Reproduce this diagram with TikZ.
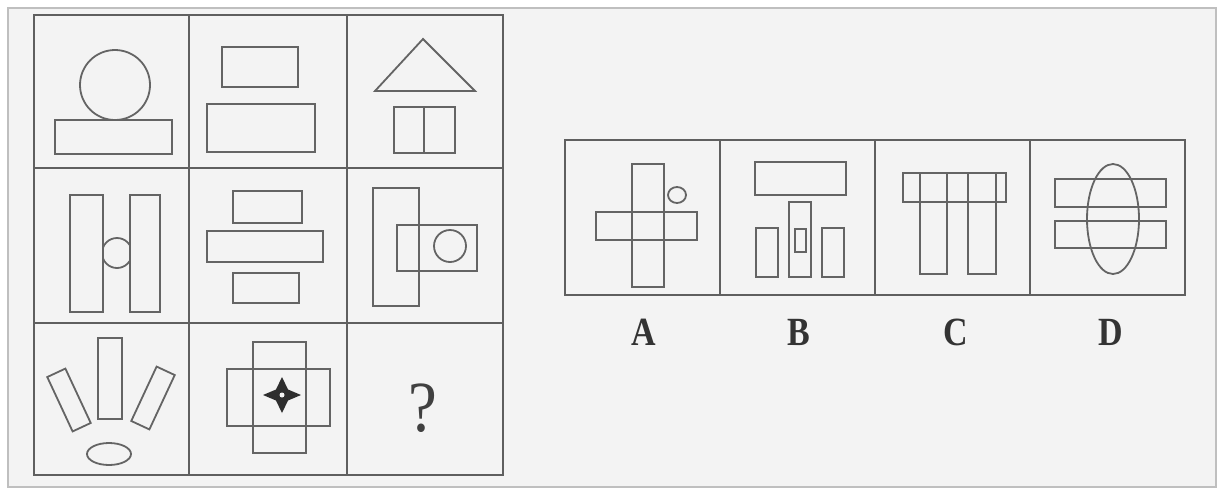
\documentclass[tikz,border=0pt]{standalone}
\usepackage{fontspec}
\setmainfont{Liberation Serif}
\definecolor{bg}{RGB}{243,243,243}
\definecolor{ln}{RGB}{95,95,95}
\definecolor{sh}{RGB}{100,100,100}
\begin{document}
\begin{tikzpicture}[x=1pt,y=-1pt,
  gridline/.style={draw=ln,line width=2.3pt},
  shp/.style={draw=sh,line width=1.8pt},
  shpf/.style={shp,fill=bg},
  lbl/.style={font=\fontsize{40}{40}\selectfont\bfseries,text=black!80,xscale=0.85}]
\useasboundingbox (0,0) rectangle (1222,496);
\fill[white] (0,0) rectangle (1222,496);
\draw[draw=black!25,fill=bg,line width=1.5pt] (8,8) rectangle (1216,487);
% question grid
\draw[gridline] (34,15) rectangle (503,475);
\draw[gridline] (189,15) -- (189,475) (347,15) -- (347,475) (34,168) -- (503,168) (34,323) -- (503,323);
% row 1
\draw[shp] (115,85) circle (35);
\draw[shp] (55,120) rectangle (172,154);
\draw[shp] (222,47) rectangle (298,87);
\draw[shp] (207,104) rectangle (315,152);
\draw[shp] (423,39) -- (475,91) -- (375,91) -- cycle;
\draw[shp] (394,107) rectangle (455,153);
\draw[shp] (424,107) -- (424,153);
% row 2
\draw[shp] (117,253) circle (15);
\draw[shpf] (70,195) rectangle (103,312);
\draw[shpf] (130,195) rectangle (160,312);
\draw[shp] (233,191) rectangle (302,223);
\draw[shp] (207,231) rectangle (323,262);
\draw[shp] (233,273) rectangle (299,303);
\draw[shp] (373,188) rectangle (419,306);
\draw[shp] (397,225) rectangle (477,271);
\draw[shp] (450,246) circle (16);
% row 3
\draw[shp] (98,338) rectangle (122,419);
\draw[shp,rotate around={25:(69,400)}] (59,370) rectangle (79,430);
\draw[shp,rotate around={-25:(153,398)}] (143,368) rectangle (163,428);
\draw[shp] (109,454) ellipse [x radius=22,y radius=11];
\draw[shp] (253,342) rectangle (306,453);
\draw[shp] (227,369) rectangle (330,426);
\fill[black!82] (263,395) -- (276,389.5) -- (282,377) -- (288,389.5) -- (301,395) -- (288,400.5) -- (282,413) -- (276,400.5) -- cycle;
\fill[bg] (282,395) circle (2.5);
\node[font=\fontsize{72}{72}\selectfont,text=black!75,inner sep=0pt,xscale=0.9] (q) at (423,408) {?};
% options
\draw[gridline] (565,140) rectangle (1185,295);
\draw[gridline] (720,140) -- (720,295) (875,140) -- (875,295) (1030,140) -- (1030,295);
% A
\draw[shp] (632,164) rectangle (664,287);
\draw[shp] (596,212) rectangle (697,240);
\draw[shp] (677,195) ellipse [x radius=9,y radius=8];
% B
\draw[shp] (755,162) rectangle (846,195);
\draw[shp] (789,202) rectangle (811,277);
\draw[shp] (795,229) rectangle (806,252);
\draw[shp] (756,228) rectangle (778,277);
\draw[shp] (822,228) rectangle (844,277);
% C
\draw[shp] (903,173) rectangle (1006,202);
\draw[shp] (920,173) rectangle (947,274);
\draw[shp] (968,173) rectangle (996,274);
% D
\draw[shp] (1055,179) rectangle (1166,207);
\draw[shp] (1055,221) rectangle (1166,248);
\draw[shp] (1113,219) ellipse [x radius=26,y radius=55];
% labels
\node[lbl] (la) at (644,332) {A};
\node[lbl] (lb) at (799,332) {B};
\node[lbl] (lc) at (956,332) {C};
\node[lbl] (ld) at (1111,332) {D};
\end{tikzpicture}
\end{document}
